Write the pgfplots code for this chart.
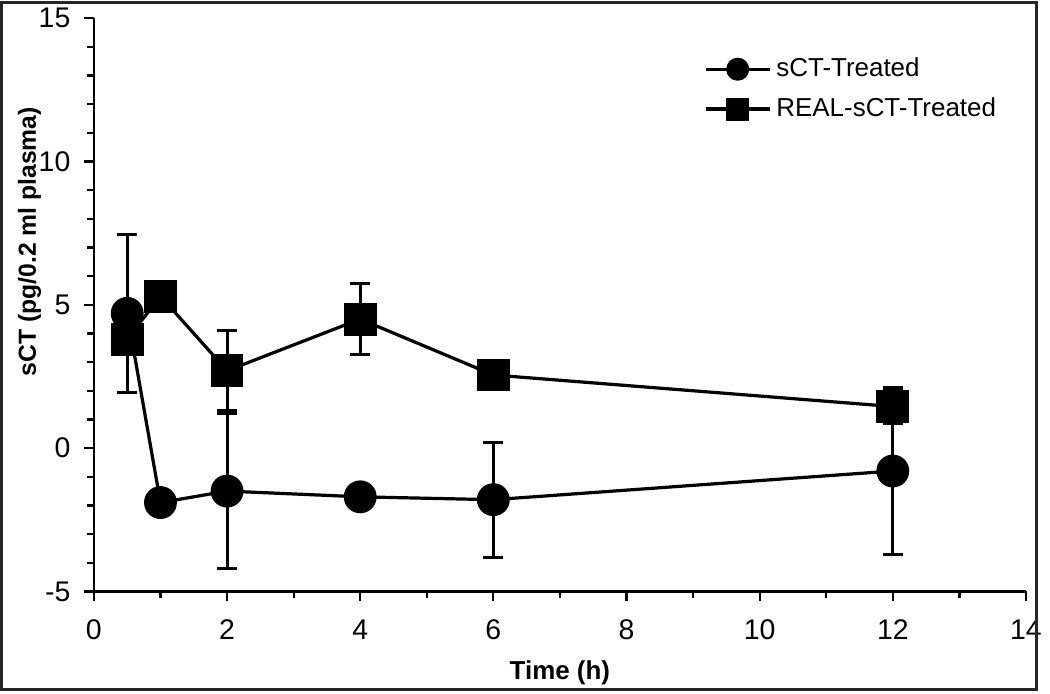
\documentclass[border=0pt]{standalone}
\usepackage{pgfplots}
\pgfplotsset{compat=1.18}
\usepackage{fontspec}
\setmainfont{Liberation Sans}
\begin{document}
\begin{tikzpicture}
\begin{axis}[
  at={(0,0)}, anchor=south west,
  scale only axis, width=377.2pt, height=232pt,
  xmin=0, xmax=14, ymin=-5, ymax=15,
  axis lines*=left, axis line style={line width=1pt, -},
  xtick={0,2,...,14}, ytick={-5,0,5,10,15},
  minor x tick num=1, minor y tick num=4,
  tick align=outside, tick style={line width=0.9pt, black},
  major tick length=4pt, minor tick length=2.6pt,
  /pgf/number format/assume math mode=true,
  ticklabel style={font=\fontsize{11.5}{13}\selectfont},
  yticklabel style={xshift=-2pt},
  xticklabel style={yshift=-4pt},
  xlabel={\textbf{Time (h)}},
  ylabel={\textbf{sCT (pg/0.2 ml plasma)}},
  xlabel style={at={(axis description cs:0.5,0)}, anchor=center, yshift=-33pt, font=\fontsize{10.5}{12}\selectfont},
  ylabel style={at={(axis description cs:-0.069,0.61)}, anchor=center, font=\fontsize{10}{12}\selectfont},
  legend style={draw=none, fill=none, at={(axis description cs:0.654,0.94)}, anchor=north west,
    font=\fontsize{10.5}{12}\selectfont, row sep=3pt, inner sep=0pt},
  legend cell align=left,
  legend image code/.code={
    \draw[#1, mark=none] (0pt,0pt) -- (26pt,0pt);
    \draw[#1, mark size=4pt] plot coordinates {(13pt,0pt)};
  },
  clip=false,
]
\addplot[black, line width=1.3pt, mark=*, mark size=6pt, mark options={solid, fill=black},
  error bars/.cd, y dir=both, y explicit,
  error bar style={line width=1.2pt, black},
  error mark options={rotate=90, mark size=4pt, line width=1.2pt, black}]
  table[x=x, y=y, y error=e] {
x y e
0.5 4.7 2.75
1 -1.9 0
2 -1.5 2.7
4 -1.7 0
6 -1.8 2.0
12 -0.8 2.9
};
\addlegendentry{sCT-Treated}
\addplot[black, line width=1.3pt, mark=square*, mark size=6pt, mark options={solid, fill=black},
  error bars/.cd, y dir=both, y explicit,
  error bar style={line width=1.2pt, black},
  error mark options={rotate=90, mark size=4pt, line width=1.2pt, black}]
  table[x=x, y=y, y error=e] {
x y e
0.5 3.8 0.3
1 5.3 0.2
2 2.7 1.4
4 4.5 1.25
6 2.55 0.2
12 1.45 0.6
};
\addlegendentry{REAL-sCT-Treated}
\end{axis}
\draw[line width=1.2pt, black!85] (-37.4pt,-39.8pt) rectangle (381.4pt,238.2pt);
\end{tikzpicture}
\end{document}
